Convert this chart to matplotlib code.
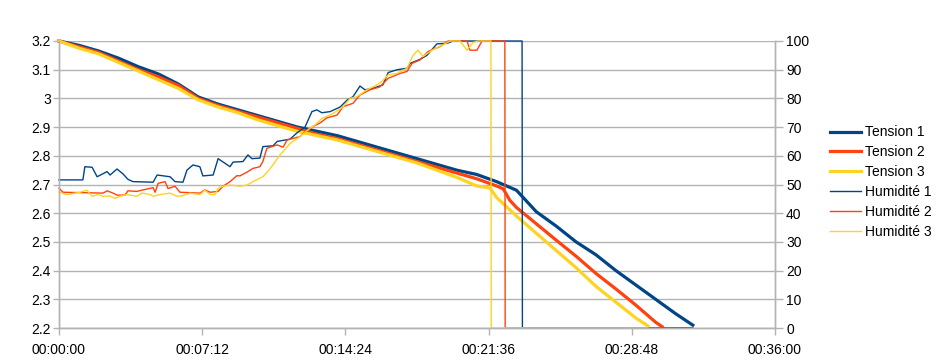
import matplotlib
matplotlib.use("Agg")
import matplotlib.pyplot as plt
from matplotlib.ticker import FuncFormatter, MultipleLocator

plt.rcParams['font.family'] = ['Liberation Sans', 'DejaVu Sans']

# Tensions (V) - temps en secondes
t1_time = [0, 60, 120, 180, 240, 300, 360, 420, 480, 540, 600, 660, 720, 780, 840, 900,
           960, 1020, 1080, 1140, 1200, 1260, 1320, 1380, 1440, 1500, 1560, 1620, 1680,
           1740, 1800, 1860, 1912]
t1_val = [3.20, 3.185, 3.165, 3.14, 3.11, 3.085, 3.05, 3.005, 2.98, 2.96, 2.94, 2.92, 2.90,
          2.885, 2.87, 2.85, 2.83, 2.81, 2.79, 2.77, 2.75, 2.735, 2.71, 2.68, 2.605, 2.555,
          2.50, 2.455, 2.40, 2.35, 2.30, 2.25, 2.21]

t2_time = [0, 60, 120, 180, 240, 300, 360, 420, 480, 540, 600, 660, 720, 780, 840, 900,
           960, 1020, 1080, 1140, 1200, 1260, 1320, 1340, 1360, 1380, 1440, 1500, 1560,
           1620, 1680, 1740, 1800, 1819]
t2_val = [3.20, 3.18, 3.16, 3.13, 3.10, 3.075, 3.045, 3.0, 2.975, 2.955, 2.935, 2.915, 2.895,
          2.875, 2.86, 2.84, 2.82, 2.80, 2.78, 2.76, 2.74, 2.72, 2.695, 2.685, 2.645, 2.62,
          2.563, 2.506, 2.45, 2.39, 2.336, 2.28, 2.22, 2.205]

t3_time = [0, 60, 120, 180, 240, 300, 360, 420, 480, 540, 600, 660, 720, 780, 840, 900,
           960, 1020, 1080, 1140, 1200, 1260, 1300, 1320, 1380, 1440, 1500, 1560, 1620,
           1680, 1740, 1777]
t3_val = [3.20, 3.175, 3.155, 3.125, 3.095, 3.065, 3.035, 2.995, 2.97, 2.95, 2.925, 2.905,
          2.885, 2.87, 2.855, 2.835, 2.815, 2.795, 2.775, 2.75, 2.725, 2.695, 2.688, 2.655,
          2.59, 2.53, 2.47, 2.41, 2.345, 2.29, 2.235, 2.207]

# Humidités (%)
h1_time = [0, 72, 78, 100, 115, 145, 154, 175, 193, 208, 223, 284, 296, 335, 350, 374, 386,
           404, 425, 434, 465, 480, 516, 525, 555, 570, 582, 606, 615, 646, 658, 697, 718,
           742, 763, 778, 793, 818, 848, 869, 887, 908, 923, 947, 977, 993, 1020, 1050,
           1059, 1089, 1110, 1140, 1171, 1189, 1397, 1398, 1912]
h1_val = [51.6, 51.6, 56.2, 56, 52.7, 54.5, 53.3, 55.4, 53.7, 51.8, 51, 50.8, 53.3, 52.7, 51,
          50.8, 55, 56.8, 56.2, 53, 53.3, 59, 56.2, 57.8, 58, 60.3, 59, 59.2, 63.2, 63.5, 65,
          65.8, 68, 70, 75.4, 76, 75, 75.4, 77, 79.4, 80.6, 84.3, 83, 83.5, 84.7, 89, 90,
          90.5, 92.2, 93.6, 95, 99, 99.2, 100, 100, 0, 0]

h2_time = [0, 12, 133, 145, 163, 175, 199, 208, 235, 253, 284, 290, 299, 320, 329, 350, 365,
           425, 440, 456, 480, 495, 516, 537, 546, 567, 585, 606, 615, 627, 658, 676, 688,
           727, 748, 766, 787, 808, 839, 857, 887, 908, 938, 968, 993, 1029, 1050, 1065,
           1089, 1113, 1128, 1149, 1174, 1231, 1240, 1261, 1276, 1345, 1346, 1819]
h2_val = [48.7, 47.3, 47, 47.8, 47, 46.3, 46.3, 47.8, 47.6, 48.1, 48.9, 47.3, 50.4, 51, 48.6,
          49.4, 47.3, 47, 48.1, 47.3, 47.6, 49.4, 51, 53.1, 53, 54.3, 55.6, 56.2, 58, 62.6,
          63.8, 63, 65.5, 66.7, 69, 70.2, 71.4, 73.2, 74.2, 77.1, 78.3, 81.2, 83, 84, 87,
          88.7, 89.4, 92.2, 93.4, 96.3, 97.1, 98, 100, 100, 96.8, 96.8, 100, 100, 0, 0]

h3_time = [0, 24, 63, 84, 100, 118, 133, 154, 169, 184, 205, 235, 250, 275, 284, 305, 335,
           356, 374, 395, 425, 440, 456, 471, 480, 495, 516, 546, 567, 585, 615, 637, 667,
           697, 727, 757, 772, 793, 827, 857, 878, 899, 929, 959, 974, 993, 1020, 1050,
           1068, 1083, 1098, 1125, 1158, 1180, 1210, 1231, 1249, 1264, 1303, 1304, 1777]
h3_val = [47.3, 46.5, 47.3, 48, 45.9, 46.5, 45.9, 46, 45.2, 45.9, 46.5, 45.9, 47, 46.5, 45.9,
          46.5, 47, 45.9, 46.1, 47, 46.5, 48, 46.5, 46.5, 48.7, 49.4, 49.8, 49.4, 49.8, 51,
          52.7, 55.5, 60.3, 64.3, 66.7, 69.6, 70.7, 73, 74.8, 77, 80, 80.6, 83, 84.7, 85.9,
          88.2, 88.7, 90.5, 95, 96.8, 94.6, 96.8, 98.6, 100, 100, 96.8, 99.5, 100, 100, 0, 0]

colors = ['#004586', '#ff420e', '#ffd320']
grey = '#b3b3b3'

fig = plt.figure(figsize=(9.41, 3.64), dpi=100)
ax = fig.add_axes([59 / 941, 36 / 364, 716 / 941, 287 / 364])
ax2 = ax.twinx()

handles = []
for tt, vv, c, lab in [(t1_time, t1_val, colors[0], 'Tension 1'),
                       (t2_time, t2_val, colors[1], 'Tension 2'),
                       (t3_time, t3_val, colors[2], 'Tension 3')]:
    l, = ax.plot(tt, vv, color=c, lw=2.3, label=lab, clip_on=False)
    handles.append(l)
for tt, vv, c, lab in [(h1_time, h1_val, colors[0], 'Humidité 1'),
                       (h2_time, h2_val, colors[1], 'Humidité 2'),
                       (h3_time, h3_val, colors[2], 'Humidité 3')]:
    l, = ax2.plot(tt, vv, color=c, lw=1.0, label=lab, clip_on=False)
    handles.append(l)

ax.set_xlim(0, 2160)
ax.set_ylim(2.2, 3.2)
ax2.set_ylim(0, 100)

ax.xaxis.set_major_locator(MultipleLocator(432))
ax.xaxis.set_major_formatter(FuncFormatter(
    lambda v, p: '%02d:%02d:%02d' % (int(v) // 3600, int(v) % 3600 // 60, int(v) % 60)))
ax.yaxis.set_major_locator(MultipleLocator(0.1))
ax.yaxis.set_major_formatter(FuncFormatter(lambda v, p: '%g' % round(v, 1)))
ax2.yaxis.set_major_locator(MultipleLocator(10))

ax.grid(axis='y', color=grey, lw=1)
ax.set_axisbelow(True)
for a in (ax, ax2):
    a.spines['top'].set_visible(False)
    for s in ('left', 'right', 'bottom'):
        a.spines[s].set_color(grey)
        a.spines[s].set_linewidth(1)
    a.tick_params(colors=grey, labelcolor='black', labelsize=10, width=1)
ax.tick_params(axis='y', length=4, pad=2)
ax.tick_params(axis='x', length=5, pad=6)
ax2.tick_params(axis='y', length=6, pad=2)

fig.legend(handles=handles, loc='center left', bbox_to_anchor=(830 / 941, 0.5),
           frameon=False, fontsize=10, handlelength=2.2, handletextpad=0.3,
           labelspacing=0.42, borderpad=0, borderaxespad=0)

fig.savefig('out.png', dpi=100)
